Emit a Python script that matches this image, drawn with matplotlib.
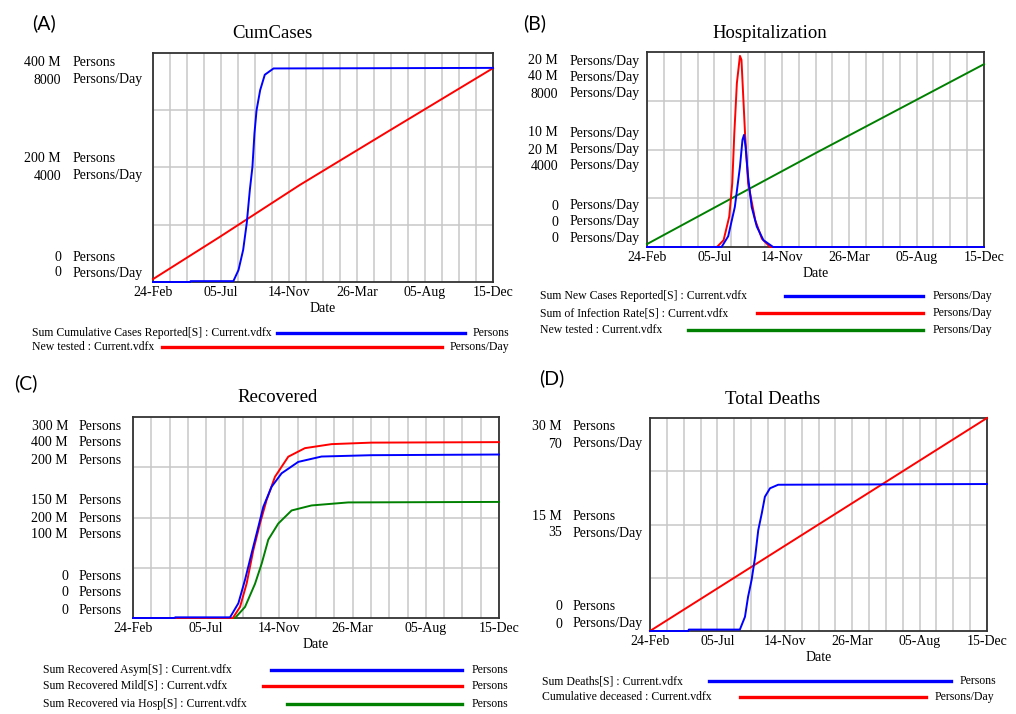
import numpy as np
import matplotlib.pyplot as plt
from matplotlib.lines import Line2D

W, H = 1016, 714
plt.rcParams['font.family'] = 'Liberation Serif'

BLUE, RED, GREEN = '#0000ff', '#ff0000', '#008000'

# x axis: days since 24-Feb (one grid column = 33 days)
date_ticks = [0, 132, 264, 396, 528, 660]
date_labels = ['24-Feb', '05-Jul', '14-Nov', '26-Mar', '05-Aug', '15-Dec']

# (A) CumCases
cum_days = [0, 72, 73, 156, 166, 175, 182, 188, 193, 197, 201, 208, 217, 234, 660]
cum_cases = [0, 0, 1.5e6, 1.5e6, 21e6, 56e6, 103e6, 161e6, 201e6, 260e6, 300e6, 335e6, 362e6, 373e6, 374e6]
tested_days = [0, 130, 285, 460, 660]
tested_a = [100, 1580, 3390, 5300, 7470]

# (B) Hospitalization
newcases_days = [0, 146, 159, 172, 182, 187, 190, 193, 198, 205, 215, 228, 247, 660]
newcases = [0, 0, 1.1e6, 4.1e6, 8.2e6, 11e6, 11.5e6, 10.3e6, 7.2e6, 4.1e6, 2.1e6, 0.7e6, 0, 0]
infection_days = [0, 137, 150, 161, 167, 171, 176, 182, 185, 192, 198, 212, 225, 241, 660]
infection = [0, 0, 1.4e6, 6.2e6, 13.1e6, 23.3e6, 33.6e6, 39.2e6, 38.4e6, 23.3e6, 13.1e6, 5.5e6, 1.7e6, 0, 0]
tested_b_days = [0, 166, 330, 660]
tested_b = [120, 2000, 3850, 7500]

# (C) Recovered
rec_days_asym = [0, 75, 76, 175, 190, 202, 214, 226, 235, 250, 268, 298, 340, 430, 660]
rec_asym = [0, 0, 1e6, 1e6, 22e6, 57e6, 97e6, 136e6, 166e6, 196e6, 216e6, 233e6, 241e6, 243e6, 244e6]
rec_days_mild = [0, 180, 193, 205, 217, 229, 241, 256, 280, 310, 358, 430, 660]
rec_mild = [0, 0, 22e6, 69e6, 135e6, 188e6, 235e6, 281e6, 321e6, 338e6, 346e6, 349e6, 350e6]
rec_days_hosp = [0, 184, 202, 220, 232, 244, 262, 286, 322, 388, 660]
rec_hosp = [0, 0, 11e6, 34e6, 54e6, 78e6, 94e6, 107e6, 112e6, 115e6, 115.5e6]

# (D) Total Deaths
death_days = [0, 75, 76, 176, 186, 192, 199, 206, 212, 219, 225, 235, 251, 660]
deaths = [0, 0, 0.2e6, 0.2e6, 2.0e6, 4.8e6, 7.2e6, 10.5e6, 14.2e6, 16.6e6, 18.9e6, 20.1e6, 20.6e6, 20.7e6]
deceased_days = [0, 330, 660]
deceased = [0, 35, 70]


def px(x, y):
    return x / W, 1 - y / H


def make_axes(box):
    # frame + grid only, every series goes on its own twin scale
    l, t, r, b = box
    ax = fig.add_axes([l / W, 1 - b / H, (r - l) / W, (b - t) / H])
    ax.set_xlim(0, 660)
    ax.set_ylim(0, 1)
    ax.set_xticks(np.arange(0, 661, 33), minor=True)
    ax.set_xticks(date_ticks)
    ax.set_xticklabels(date_labels, fontsize=10)
    ax.set_yticks([0.25, 0.5, 0.75])
    ax.set_yticklabels([])
    ax.tick_params(axis='both', which='both', length=0)
    ax.tick_params(axis='x', pad=3)
    ax.grid(True, which='both', color='#c8c8c8', lw=1.1)
    for s in ax.spines.values():
        s.set_color('#333333')
        s.set_linewidth(1.3)
    ax.set_xlabel('Date', fontsize=10, labelpad=2)
    return ax


def add_series(ax, days, vals, top, color):
    a = ax.twinx()
    a.plot(days, vals, color=color, lw=1.4, clip_on=False, zorder=5)
    a.set_ylim(0, top)
    a.set_xlim(0, 660)
    a.axis('off')
    return a


def ylabels(xnum, xunit, rows):
    for num, unit, y in rows:
        fig.text(*px(xnum, y), num, ha='right', va='center', fontsize=10)
        fig.text(*px(xunit, y), unit, ha='left', va='center', fontsize=10)


def legend_row(x, y, label, x0, x1, color, unit, xu):
    fig.text(*px(x, y), label, ha='left', va='center', fontsize=8.5)
    fig.add_artist(Line2D([x0 / W, x1 / W], [1 - y / H, 1 - y / H], color=color, lw=2.4,
                          transform=fig.transFigure))
    fig.text(*px(xu, y), unit, ha='left', va='center', fontsize=8.5)


fig = plt.figure(figsize=(W / 100, H / 100), dpi=100)

# ---- (A)
axA = make_axes((153, 53, 493, 282))
add_series(axA, tested_days, tested_a, 8000, RED)
add_series(axA, cum_days, cum_cases, 400e6, BLUE)
fig.text(*px(272, 33), 'CumCases', ha='center', va='center', fontsize=13.5)
fig.text(*px(32, 23), '(A)', ha='left', va='center', fontsize=14, family='Lato')
ylabels(61, 73, [('400 M', 'Persons', 62), ('8000', 'Persons/Day', 80),
                 ('200 M', 'Persons', 159), ('4000', 'Persons/Day', 176),
                 ('0', 'Persons', 257), ('0', 'Persons/Day', 273)])
legend_row(32, 333, 'Sum Cumulative Cases Reported[S] : Current.vdfx', 277, 465, BLUE, 'Persons', 473)
legend_row(32, 347, 'New tested : Current.vdfx', 162, 442, RED, 'Persons/Day', 450)

# ---- (B)
axB = make_axes((647, 52, 984, 247))
add_series(axB, tested_b_days, tested_b, 8000, GREEN)
add_series(axB, infection_days, infection, 40e6, RED)
add_series(axB, newcases_days, newcases, 20e6, BLUE)
fig.text(*px(770, 33), 'Hospitalization', ha='center', va='center', fontsize=13.5)
fig.text(*px(523, 23), '(B)', ha='left', va='center', fontsize=14, family='Lato')
ylabels(558, 570, [('20 M', 'Persons/Day', 61), ('40 M', 'Persons/Day', 77), ('8000', 'Persons/Day', 94),
                   ('10 M', 'Persons/Day', 133), ('20 M', 'Persons/Day', 150), ('4000', 'Persons/Day', 166),
                   ('0', 'Persons/Day', 206), ('0', 'Persons/Day', 222), ('0', 'Persons/Day', 239)])
legend_row(540, 296, 'Sum New Cases Reported[S] : Current.vdfx', 785, 923, BLUE, 'Persons/Day', 933)
legend_row(540, 313, 'Sum of Infection Rate[S] : Current.vdfx', 757, 923, RED, 'Persons/Day', 933)
legend_row(540, 330, 'New tested : Current.vdfx', 688, 923, GREEN, 'Persons/Day', 933)

# ---- (C)
axC = make_axes((133, 417, 499, 618))
add_series(axC, rec_days_hosp, rec_hosp, 200e6, GREEN)
add_series(axC, rec_days_mild, rec_mild, 400e6, RED)
add_series(axC, rec_days_asym, rec_asym, 300e6, BLUE)
fig.text(*px(278, 397), 'Recovered', ha='center', va='center', fontsize=13.5)
fig.text(*px(14, 383), '(C)', ha='left', va='center', fontsize=14, family='Lato')
ylabels(68, 79, [('300 M', 'Persons', 426), ('400 M', 'Persons', 443), ('200 M', 'Persons', 460),
                 ('150 M', 'Persons', 500), ('200 M', 'Persons', 518), ('100 M', 'Persons', 534),
                 ('0', 'Persons', 576), ('0', 'Persons', 593), ('0', 'Persons', 610)])
legend_row(43, 670, 'Sum Recovered Asym[S] : Current.vdfx', 271, 462, BLUE, 'Persons', 472)
legend_row(43, 686, 'Sum Recovered Mild[S] : Current.vdfx', 263, 462, RED, 'Persons', 472)
legend_row(43, 704, 'Sum Recovered via Hosp[S] : Current.vdfx', 287, 462, GREEN, 'Persons', 472)

# ---- (D)
axD = make_axes((650, 418, 987, 631))
add_series(axD, deceased_days, deceased, 70, RED)
add_series(axD, death_days, deaths, 30e6, BLUE)
fig.text(*px(773, 400), 'Total Deaths', ha='center', va='center', fontsize=13.5)
fig.text(*px(539, 378), '(D)', ha='left', va='center', fontsize=14, family='Lato')
ylabels(562, 573, [('30 M', 'Persons', 427), ('70', 'Persons/Day', 444),
                   ('15 M', 'Persons', 517), ('35', 'Persons/Day', 533),
                   ('0', 'Persons', 607), ('0', 'Persons/Day', 624)])
legend_row(542, 681, 'Sum Deaths[S] : Current.vdfx', 709, 951, BLUE, 'Persons', 960)
legend_row(542, 697, 'Cumulative deceased : Current.vdfx', 740, 926, RED, 'Persons/Day', 935)

fig.savefig('out.png', dpi=100)
